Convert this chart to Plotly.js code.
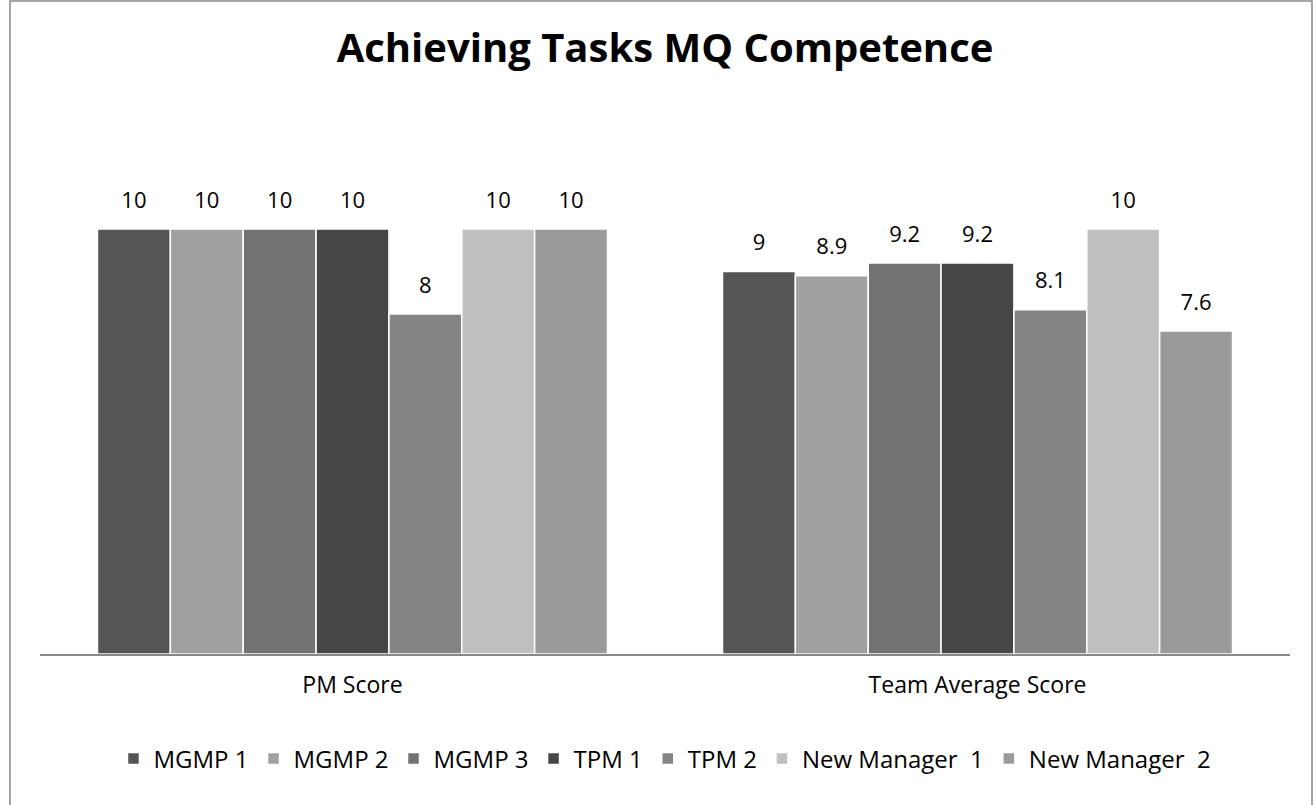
<!DOCTYPE html>
<html>
<head>
<meta charset="utf-8">
<script src="https://cdn.plot.ly/plotly-3.0.1.min.js"></script>
<style>
  html, body { margin: 0; padding: 0; background: #fff; }
  #chart { width: 1316px; height: 805px; }
</style>
</head>
<body>
<div id="chart"></div>
<script>
const categories = ["PM Score", "Team Average Score"];
const seriesNames = ["MGMP 1", "MGMP 2", "MGMP 3", "TPM 1", "TPM 2", "New Manager\u00a0\u00a01", "New Manager\u00a0\u00a02"];
const mgmp1 = [10, 9];
const mgmp2 = [10, 8.9];
const mgmp3 = [10, 9.2];
const tpm1 = [10, 9.2];
const tpm2 = [8, 8.1];
const newManager1 = [10, 10];
const newManager2 = [10, 7.6];
const seriesValues = [mgmp1, mgmp2, mgmp3, tpm1, tpm2, newManager1, newManager2];
const colors = ["#555555", "#a0a0a0", "#727272", "#464646", "#848484", "#c0c0c0", "#9a9a9a"];

const FONT = "Open Sans, Liberation Sans, sans-serif";
const GAP = 0.184;

const bars = seriesValues.map((vals, i) => ({
  type: "bar",
  name: seriesNames[i],
  x: categories,
  y: vals,
  offsetgroup: "g" + i,
  marker: { color: colors[i], line: { color: "#ffffff", width: 1.5 } },
  hoverinfo: "none"
}));

const labels = seriesValues.map((vals, i) => ({
  type: "scatter",
  mode: "markers+text",
  x: categories,
  y: vals,
  offsetgroup: "g" + i,
  text: vals.map(v => String(v)),
  textposition: "top center",
  textfont: { family: FONT, size: 22, color: "#000" },
  marker: { size: 24, color: "rgba(0,0,0,0)" },
  cliponaxis: false,
  showlegend: false,
  hoverinfo: "none"
}));

const L = 40, R = 26, T = 144, B = 151;
const W = 1316, H = 805;
const pw = W - L - R, ph = H - T - B;
const px = x => (x - L) / pw;
const py = y => (H - B - y) / ph;

const layout = {
  width: W, height: H,
  margin: { l: L, r: R, t: T, b: B, pad: 0 },
  paper_bgcolor: "#fff",
  plot_bgcolor: "#fff",
  barmode: "group",
  bargap: GAP,
  bargroupgap: 0,
  scattermode: "group",
  scattergap: GAP,
  showlegend: true,
  title: {
    text: "<b>Achieving Tasks MQ Competence</b>",
    font: { family: FONT, size: 40, color: "#000" },
    x: 0.5, xanchor: "center",
    y: 1 - 48 / H, yanchor: "middle",
    xref: "paper"
  },
  xaxis: {
    type: "category",
    showgrid: false,
    showline: true,
    linecolor: "#888888",
    linewidth: 1.5,
    ticks: "",
    tickfont: { family: FONT, size: 23, color: "#000" },
    ticklabelstandoff: 10,
    zeroline: false,
    fixedrange: true
  },
  yaxis: {
    range: [0, 12],
    visible: false,
    showgrid: false,
    zeroline: false,
    fixedrange: true
  },
  legend: {
    orientation: "h",
    x: 0.5, xanchor: "center",
    y: py(759), yanchor: "middle",
    font: { family: FONT, size: 24, color: "#000" },
    itemwidth: 30,
    traceorder: "normal",
    itemclick: false
  },
  shapes: [{
    type: "rect", xref: "paper", yref: "paper",
    x0: px(10), x1: px(1312), y0: py(820), y1: py(1),
    line: { color: "#888888", width: 1.5 },
    fillcolor: "rgba(0,0,0,0)",
    layer: "below"
  }]
};

Plotly.newPlot("chart", bars.concat(labels), layout, { displayModeBar: false, staticPlot: true });
</script>
</body>
</html>
